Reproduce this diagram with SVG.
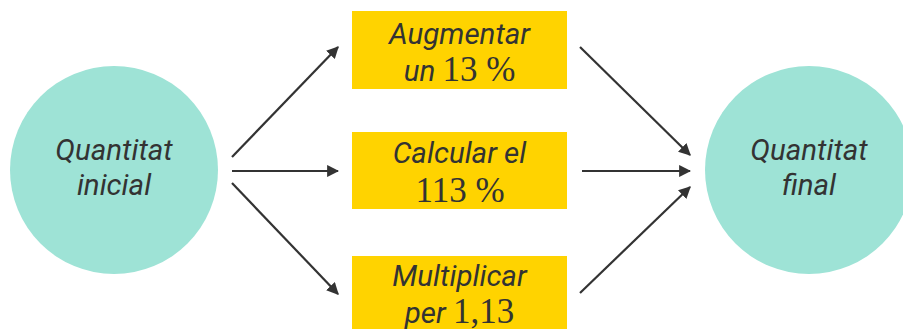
<svg xmlns="http://www.w3.org/2000/svg" width="903" height="329" viewBox="0 0 903 329">
<style>
.circ{fill:#9ee3d6}
.box{fill:#ffd300}
.lbl{font-family:Roboto,"Liberation Sans",sans-serif;font-style:italic;font-size:29.5px;fill:#333;text-anchor:middle}
.math{font-family:"Liberation Serif","DejaVu Serif",serif;font-style:normal;font-size:35px;fill:#333}
.conn{stroke:#333;stroke-width:2.2;fill:none;marker-end:url(#ah)}
</style>
<defs>
<marker id="ah" viewBox="0 0 10 10" refX="9" refY="5" markerWidth="5.5" markerHeight="5.5" markerUnits="strokeWidth" orient="auto">
<path d="M0,0 L10,5 L0,10 Z" fill="#333"/>
</marker>
</defs>
<rect width="903" height="329" fill="#fff"/>
<g id="n-inicial">
<circle class="circ" cx="114" cy="170" r="104"/>
<text class="lbl" x="114" y="160">Quantitat</text>
<text class="lbl" x="114" y="195">inicial</text>
</g>
<g id="n-final">
<circle class="circ" cx="809" cy="170" r="104"/>
<text class="lbl" x="809" y="160">Quantitat</text>
<text class="lbl" x="809" y="195">final</text>
</g>
<g id="n-augmentar">
<rect class="box" x="352" y="11" width="215" height="78"/>
<text class="lbl" x="459.5" y="44">Augmentar</text>
<text class="lbl" x="459.5" y="81">un <tspan class="math">13 %</tspan></text>
</g>
<g id="n-calcular">
<rect class="box" x="352" y="132" width="215" height="77"/>
<text class="lbl math" x="460" y="202">113 %</text>
<text class="lbl" x="459.5" y="163">Calcular el</text>
</g>
<g id="n-multiplicar">
<rect class="box" x="352" y="256" width="215" height="78"/>
<text class="lbl" x="459.5" y="286">Multiplicar</text>
<text class="lbl" x="459.5" y="323">per <tspan class="math">1,13</tspan></text>
</g>
<g id="connectors">
<line class="conn" x1="232" y1="157" x2="338" y2="47"/>
<line class="conn" x1="232" y1="171" x2="338" y2="171"/>
<line class="conn" x1="232" y1="183" x2="338" y2="294"/>
<line class="conn" x1="580" y1="47" x2="690" y2="155"/>
<line class="conn" x1="582" y1="171" x2="690" y2="171"/>
<line class="conn" x1="580" y1="293" x2="690" y2="187"/>
</g>
</svg>
